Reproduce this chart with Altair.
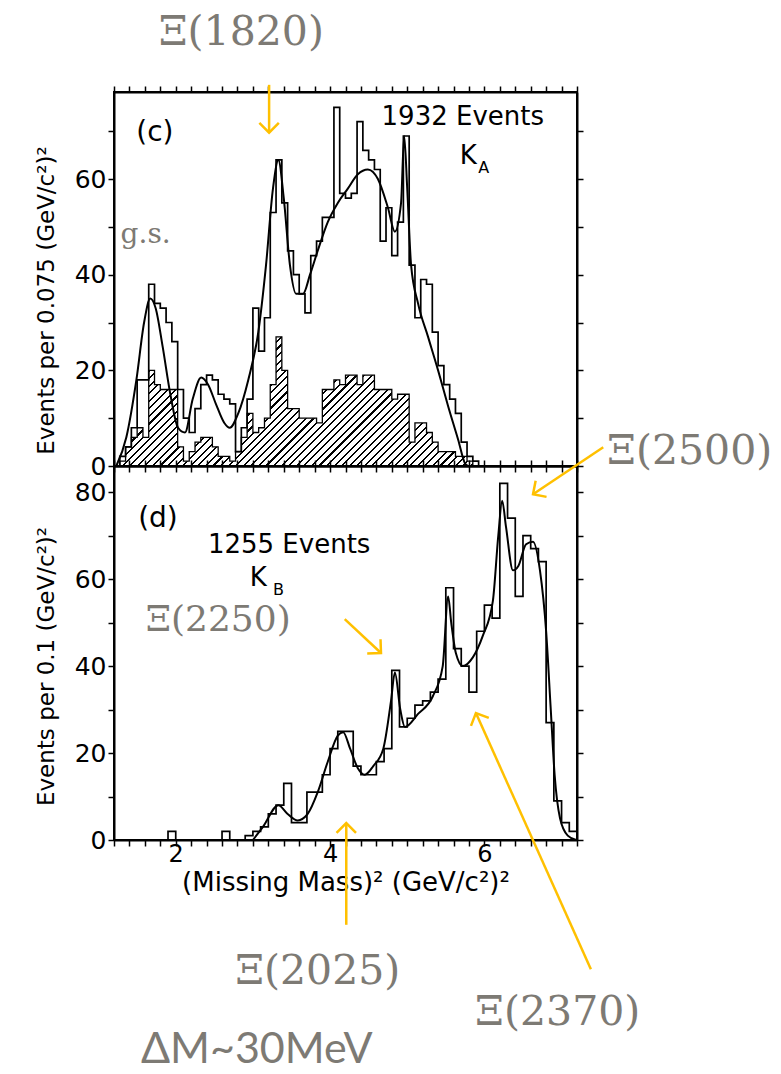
import altair as alt
import pandas as pd

# ---------------- data ----------------
X_START = 1.2      # left edge of the (missing mass)^2 axis
TOP_BIN = 0.075    # bin width, panel (c)
BOT_BIN = 0.1      # bin width, panel (d)

# panel (c), K_A sample: all events (open histogram)
top_total = [0, 2, 4, 8, 18, 18, 38, 34, 33, 30, 26, 16, 10, 7, 12, 17, 19, 18, 15, 14,
             13, 3, 8, 14, 33, 24, 31, 53, 64, 55, 45, 40, 36, 32, 44, 47, 52, 52, 75, 57,
             56, 57, 72, 66, 64, 62, 47, 54, 44, 51, 69, 42, 31, 39, 38, 28, 21, 17, 14, 11,
             5, 2, 1, 0]
# panel (c): hatched histogram
top_bg = [0, 1, 4, 6, 8, 6, 20, 17, 16, 16, 16, 4, 1, 3, 5, 6, 6, 4, 2, 2,
          1, 3, 6, 11, 7, 8, 10, 17, 27, 20, 12, 12, 10, 10, 10, 9, 16, 16, 18, 17,
          19, 19, 17, 19, 19, 16, 16, 16, 14, 15, 15, 5, 9, 9, 7, 5, 3, 3, 3, 2,
          2, 1, 0, 0]
# panel (c): smooth fitted curve
top_curve_x = [1.23, 1.36, 1.49, 1.59, 1.67, 1.74, 1.83, 1.93, 2.03, 2.12, 2.22, 2.33, 2.42,
               2.52, 2.63, 2.70, 2.81, 2.94, 3.07, 3.17, 3.26, 3.33, 3.40, 3.48, 3.56, 3.65,
               3.74, 3.84, 3.97, 4.10, 4.23, 4.36, 4.49, 4.62, 4.75, 4.84, 4.92, 4.96, 5.00,
               5.05, 5.14, 5.27, 5.40, 5.53, 5.66, 5.75, 5.79]
top_curve_y = [0, 6, 18, 30, 35, 33, 25, 15, 8, 7, 14, 18.5, 17,
               13, 9, 8, 11, 18, 28, 42, 58, 64, 56, 42, 36, 36,
               40, 45, 51, 55, 58, 61, 62, 60, 54, 49, 55, 69, 58,
               42, 34, 27, 20, 12.5, 5.5, 0.5, 0]

# panel (d), K_B sample: open histogram
bot_total = [0, 0, 0, 0, 0, 0, 0, 2, 0, 0, 0, 0, 0, 0, 2, 0, 0, 1, 2, 3,
             6, 8, 13, 4, 4, 11, 11, 15, 21, 25, 25, 17, 15, 15, 18, 21, 39, 26, 28, 31,
             32, 34, 37, 58, 44, 40, 34, 48, 54, 51, 82, 74, 56, 70, 67, 64, 27, 9, 4, 2]
# panel (d): smooth fitted curve
bot_curve_x = [3.00, 3.13, 3.33, 3.45, 3.58, 3.71, 3.84, 3.97, 4.10, 4.17, 4.26, 4.36, 4.45,
               4.56, 4.69, 4.79, 4.84, 4.91, 4.97, 5.14, 5.33, 5.46, 5.53, 5.57, 5.63, 5.72,
               5.85, 5.98, 6.11, 6.18, 6.23, 6.28, 6.37, 6.44, 6.54, 6.63, 6.72, 6.80, 6.86,
               6.91, 6.98, 7.08, 7.19]
bot_curve_y = [0, 3, 8, 6, 4.5, 6, 11, 18, 24, 24.8, 21, 16.5, 15,
               17, 21, 32, 38.5, 30, 26, 29, 33, 40, 56, 50, 43, 40,
               42, 47, 55, 70, 78, 72, 62, 63, 68, 68.6, 62, 48, 30,
               15, 5, 1, 0]

# annotation texts (label, x, y in data units of their panel)
top_notes = [("Ξ(1820)", 2.85, 90.6)]
gs_note = [("g.s.", 1.61, 48.3)]
bot_big_notes = [("Ξ(2500)", 8.66, 89.2), ("Ξ(2025)", 3.84, -30.3), ("Ξ(2370)", 6.95, -39.8)]
bot_small_notes = [("Ξ(2250)", 2.55, 50.6)]
dm_note = [("ΔM~30MeV", 3.05, -48.4)]
# arrows: tail x, tail y, head x, head y, head direction (deg, clockwise from +x)
top_arrows = [(3.21, 79.7, 3.21, 69.7, 90)]
bot_arrows = [(7.54, 90.3, 6.63, 79.5, 146),
              (4.19, 50.8, 4.66, 43.0, 43),
              (4.21, -19.5, 4.21, 3.9, 270),
              (7.38, -29.7, 5.89, 29.2, 246)]

# ---------------- styling ----------------
W, H = 463, 374
XDOM = [1.2, 7.2]
TOP_YMAX = 78.2
BOT_YMAX = 86.0
FONT = "DejaVu Sans"
SERIF = "DejaVu Serif"
GOLD = "#FFC000"
GRAY = "#7d7a74"

xscale = alt.Scale(domain=XDOM, nice=False, zero=False)
ytop = alt.Scale(domain=[0, TOP_YMAX], nice=False)
ybot = alt.Scale(domain=[0, BOT_YMAX], nice=False)
tick_x = [round(1.2 + 0.2 * k, 1) for k in range(31)]
axc = dict(domainColor="black", domainWidth=2, tickColor="black", tickWidth=1.5,
           tickSize=6, grid=False, labelFont=FONT, labelFontSize=25, labelColor="black",
           titleFont=FONT, titleFontSize=23, titleFontWeight="normal", titleColor="black")
axx = {**axc, "titleFontSize": 26, "labelFontSize": 24}


def hatch_fill(w_px, h_px, period=7.6, frac=0.28):
    r = h_px / w_px
    s = (1 + r) / (1 + r * r)
    n = int(round((w_px + h_px) / period))
    stops = []
    for k in range(n):
        a = round(k / n, 5)
        b = round((k + frac) / n, 5)
        c = round((k + 1) / n, 5)
        stops += [alt.GradientStop(color="black", offset=a),
                  alt.GradientStop(color="black", offset=b),
                  alt.GradientStop(color="white", offset=b),
                  alt.GradientStop(color="white", offset=c)]
    return alt.LinearGradient(gradient="linear", stops=stops, x1=0, y1=0, x2=s, y2=s * r)


def bins(values, step):
    xs = [round(X_START + step * i, 4) for i in range(len(values) + 1)]
    return xs, list(values) + [values[-1]]


tx, tt = bins(top_total, TOP_BIN)
_, tb = bins(top_bg, TOP_BIN)
top_df = pd.DataFrame({"x": tx, "total": tt, "bg": tb})
bx, bt = bins(bot_total, BOT_BIN)
bot_df = pd.DataFrame({"x": bx, "total": bt})
top_curve = pd.DataFrame({"x": top_curve_x, "y": top_curve_y})
bot_curve = pd.DataFrame({"x": bot_curve_x, "y": bot_curve_y})

# pixel extent of hatched area (for the stripe gradient)
w_px = (len(top_bg)) * TOP_BIN / (XDOM[1] - XDOM[0]) * W
h_px = max(top_bg) / TOP_YMAX * H
HATCH = hatch_fill(w_px, h_px)


def X(field, axis=None):
    return alt.X(f"{field}:Q", scale=xscale, axis=axis)


def Y(field, sc, axis=None):
    return alt.Y(f"{field}:Q", scale=sc, axis=axis)


def texts(rows, sc, font, size, color, align="center"):
    df = pd.DataFrame(rows, columns=["label", "x", "y"])
    return alt.Chart(df).mark_text(font=font, fontSize=size, color=color, align=align,
                                   baseline="middle").encode(
        x=X("x"), y=Y("y", sc), text="label:N")


def arrows(rows, sc):
    df = pd.DataFrame(rows, columns=["x", "y", "hx", "hy", "ang"])
    line = alt.Chart(df).mark_rule(color=GOLD, strokeWidth=2.5).encode(
        x=X("x"), y=Y("y", sc), x2="hx:Q", y2="hy:Q")
    head = alt.Chart(df).mark_point(shape="M -1 -1 L 0 0 L -1 1", filled=False, size=380,
                                    strokeWidth=2.5, color=GOLD, opacity=1).encode(
        x=X("hx"), y=Y("hy", sc), angle=alt.Angle("ang:Q", scale=None))
    return line + head


# ---------------- panel (c) ----------------
top_area = alt.Chart(top_df).mark_area(interpolate="step-after", fill=HATCH,
                                       stroke="black", strokeWidth=1.3).encode(
    x=X("x", alt.Axis(orient="bottom", values=tick_x, labels=False, title=None, **axc)),
    y=Y("bg", ytop, alt.Axis(orient="left", values=list(range(0, 71, 10)),
                             labelExpr="datum.value % 20 === 0 ? format(datum.value, 'd') : ''",
                             title="Events per 0.075 (GeV/c²)²", titlePadding=16,
                             titleY=208, **axc)))
top_hist = alt.Chart(top_df).mark_line(interpolate="step-after", color="black",
                                       strokeWidth=1.7).encode(
    x=X("x", alt.Axis(orient="top", values=tick_x, labels=False, title=None, **axc)),
    y=Y("total", ytop, alt.Axis(orient="right", values=list(range(0, 71, 10)),
                                labels=False, title=None, **axc)))
top_fit = alt.Chart(top_curve).mark_line(interpolate="monotone", color="black",
                                         strokeWidth=2).encode(x=X("x"), y=Y("y", ytop))

top_labels = (texts([("(c)", 1.73, 69.7)], ytop, FONT, 28, "black")
              + texts([("1932 Events", 5.72, 73.0)], ytop, FONT, 26, "black")
              + texts([("K", 5.79, 64.9)], ytop, FONT, 26, "black")
              + texts([("A", 5.99, 62.4)], ytop, FONT, 16, "black"))

top_panel = alt.layer(
    top_area, top_hist, top_fit, top_labels,
    texts(top_notes, ytop, SERIF, 41, GRAY),
    texts(gs_note, ytop, SERIF, 28, GRAY),
    arrows(top_arrows, ytop),
).resolve_axis(x="independent", y="independent").properties(width=W, height=H)

# ---------------- panel (d) ----------------
bot_hist = alt.Chart(bot_df).mark_line(interpolate="step-after", color="black",
                                       strokeWidth=1.7).encode(
    x=X("x", alt.Axis(orient="bottom", values=tick_x,
                      labelExpr="indexof([2, 4, 6], datum.value) >= 0 ? format(datum.value, 'd') : ''",
                      title="(Missing Mass)²  (GeV/c²)²", titlePadding=3, labelPadding=-4,
                      **axx)),
    y=Y("total", ybot, alt.Axis(orient="left", values=list(range(0, 81, 10)),
                                labelExpr="datum.value % 20 === 0 ? format(datum.value, 'd') : ''",
                                title="Events per 0.1 (GeV/c²)²", titlePadding=16,
                                titleY=200, **axc)))
bot_frame = alt.Chart(bot_df).mark_line(opacity=0).encode(
    x=X("x", alt.Axis(orient="top", values=tick_x, labels=False, title=None, **axc)),
    y=Y("total", ybot, alt.Axis(orient="right", values=list(range(0, 81, 10)),
                                labels=False, title=None, **axc)))
bot_fit = alt.Chart(bot_curve).mark_line(interpolate="monotone", color="black",
                                         strokeWidth=2).encode(x=X("x"), y=Y("y", ybot))

bot_labels = (texts([("(d)", 1.77, 73.8)], ybot, FONT, 28, "black")
              + texts([("1255 Events", 3.47, 67.8)], ybot, FONT, 26, "black")
              + texts([("K", 3.07, 60.2)], ybot, FONT, 26, "black")
              + texts([("B", 3.33, 57.6)], ybot, FONT, 16, "black"))

bot_panel = alt.layer(
    bot_hist, bot_frame, bot_fit, bot_labels,
    texts(bot_big_notes, ybot, SERIF, 41, GRAY),
    texts(bot_small_notes, ybot, SERIF, 36, GRAY),
    texts(dm_note, ybot, "Lato", 43, GRAY),
    arrows(bot_arrows, ybot),
).resolve_axis(x="independent", y="independent").properties(width=W, height=H)

chart = alt.vconcat(top_panel, bot_panel, spacing=0, bounds="flush").properties(
    padding={"left": 34, "top": 10, "right": 0, "bottom": 0},
    background="white",
).configure_view(stroke="black", strokeWidth=2)

chart.save("out.html", embed_options={"renderer": "svg", "actions": False})
